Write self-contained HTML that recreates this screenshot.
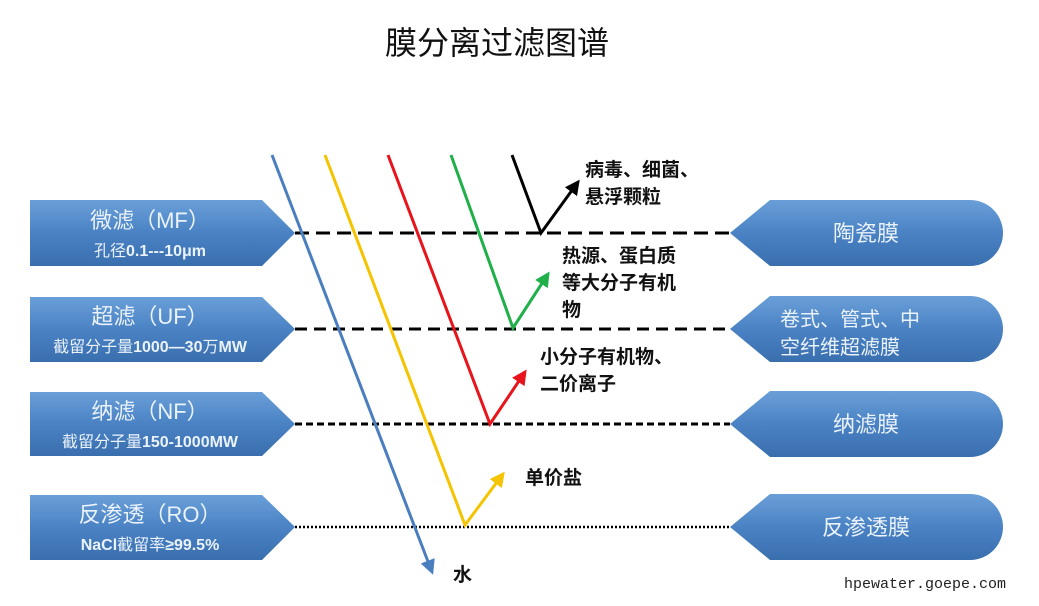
<!DOCTYPE html>
<html><head><meta charset="utf-8"><style>
body{margin:0;background:#fff;width:1039px;height:601px;overflow:hidden;font-family:"Liberation Sans","Noto Sans CJK SC",sans-serif}
</style></head><body>
<svg width="1039" height="601" viewBox="0 0 1039 601" xmlns="http://www.w3.org/2000/svg" style="font-family:'Liberation Sans','Noto Sans CJK SC',sans-serif">
<defs>
<linearGradient id="g" x1="0" y1="0" x2="0" y2="1">
<stop offset="0" stop-color="#6a9fd8"/><stop offset="0.5" stop-color="#4a82c4"/><stop offset="1" stop-color="#3a6fae"/>
</linearGradient>
<marker id="ab" viewBox="0 0 10 10" refX="8" refY="5" markerWidth="5" markerHeight="5" orient="auto"><path d="M0,0L10,5L0,10z" fill="#4a7ebf"/></marker>
<marker id="ay" viewBox="0 0 10 10" refX="8" refY="5" markerWidth="5" markerHeight="5" orient="auto"><path d="M0,0L10,5L0,10z" fill="#f5c400"/></marker>
<marker id="ar" viewBox="0 0 10 10" refX="8" refY="5" markerWidth="5" markerHeight="5" orient="auto"><path d="M0,0L10,5L0,10z" fill="#e8141b"/></marker>
<marker id="ag" viewBox="0 0 10 10" refX="8" refY="5" markerWidth="5" markerHeight="5" orient="auto"><path d="M0,0L10,5L0,10z" fill="#1fb04a"/></marker>
<marker id="ak" viewBox="0 0 10 10" refX="8" refY="5" markerWidth="5" markerHeight="5" orient="auto"><path d="M0,0L10,5L0,10z" fill="#000"/></marker>
</defs>
<text x="497" y="54" font-size="32" text-anchor="middle" fill="#111">膜分离过滤图谱</text>

<g fill="url(#g)">
<path d="M30,200H262L295,233L262,266H30Z"/>
<path d="M30,297H262L295,329L262,362H30Z"/>
<path d="M30,392H262L295,424L262,456H30Z"/>
<path d="M30,495H262L295,527L262,560H30Z"/>
<path d="M730,233L770,200H970A33,33 0 0 1 970,266H770Z"/>
<path d="M730,329L770,296H970A33,33 0 0 1 970,362H770Z"/>
<path d="M730,424L770,391H970A33,33 0 0 1 970,457H770Z"/>
<path d="M730,527L770,494H970A33,33 0 0 1 970,560H770Z"/>
</g>
<g fill="#eaf2fb" text-anchor="middle">
<text x="150" y="228" font-size="22">微滤（MF）</text>
<text x="150" y="256" font-size="16">孔径<tspan font-weight="bold">0.1---10μm</tspan></text>
<text x="150" y="324" font-size="22">超滤（UF）</text>
<text x="150" y="352" font-size="16">截留分子量<tspan font-weight="bold">1000—30</tspan>万<tspan font-weight="bold">MW</tspan></text>
<text x="150" y="419" font-size="22">纳滤（NF）</text>
<text x="150" y="447" font-size="16">截留分子量<tspan font-weight="bold">150-1000MW</tspan></text>
<text x="150" y="522" font-size="22">反渗透（RO）</text>
<text x="150" y="550" font-size="16"><tspan font-weight="bold">NaCl</tspan>截留率<tspan font-weight="bold">≥99.5%</tspan></text>
<text x="866" y="241" font-size="22">陶瓷膜</text>
<text x="780" y="326" font-size="20" text-anchor="start">卷式、管式、中</text>
<text x="780" y="354" font-size="20" text-anchor="start">空纤维超滤膜</text>
<text x="866" y="432" font-size="22">纳滤膜</text>
<text x="866" y="535" font-size="22">反渗透膜</text>
</g>

<g stroke="#000" stroke-width="3">
<line x1="295" y1="233" x2="730" y2="233" stroke-dasharray="14,7"/>
<line x1="295" y1="329" x2="730" y2="329" stroke-dasharray="12,7"/>
<line x1="295" y1="424" x2="730" y2="424" stroke-dasharray="7,4"/>
<line x1="295" y1="527" x2="730" y2="527" stroke-dasharray="2,2" stroke-width="2.5"/>
</g>

<g fill="none" stroke-width="3">
<path d="M272,155L432,572" stroke="#4a7ebf" marker-end="url(#ab)"/>
<path d="M325,155L465,525L503,474" stroke="#f5c400" marker-end="url(#ay)"/>
<path d="M388,155L490,424L525,372" stroke="#e8141b" marker-end="url(#ar)"/>
<path d="M451,155L513,328L548,274" stroke="#1fb04a" marker-end="url(#ag)"/>
<path d="M512,155L541,233L578,182" stroke="#000" marker-end="url(#ak)"/>
</g>

<g font-size="19" font-weight="bold" fill="#111">
<text x="585" y="176">病毒、细菌、</text>
<text x="585" y="203">悬浮颗粒</text>
<text x="562" y="262">热源、蛋白质</text>
<text x="562" y="289">等大分子有机</text>
<text x="562" y="316">物</text>
<text x="540" y="363">小分子有机物、</text>
<text x="540" y="390">二价离子</text>
<text x="525" y="484">单价盐</text>
<text x="453" y="581">水</text>
</g>
<text x="1006" y="588" font-size="15" font-family="Liberation Mono,monospace" text-anchor="end" fill="#222">hpewater.goepe.com</text>
</svg>
</body></html>
